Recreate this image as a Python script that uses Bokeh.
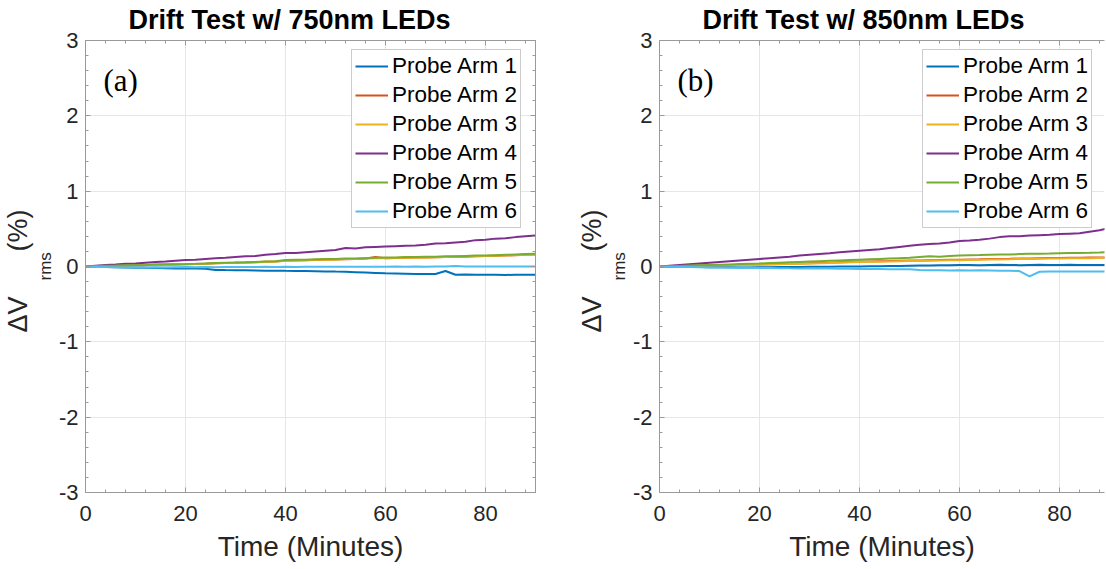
from bokeh.plotting import figure
from bokeh.models import (Label, LinearAxis, SingleIntervalTicker, Range1d, Title,
                          CustomLabelingPolicy)
from bokeh.layouts import row
from bokeh.embed import file_html
from bokeh.resources import INLINE

# ---------------- data ----------------
time_min = [0, 2, 4, 6, 8, 10, 12, 14, 16, 18, 20, 22, 24, 26, 28, 30, 32, 34, 36, 38,
            40, 42, 44, 46, 48, 50, 52, 54, 56, 58, 60, 62, 64, 66, 68, 70, 72, 74, 76, 78,
            80, 82, 84, 86, 88, 90]

series_names = ["Probe Arm 1", "Probe Arm 2", "Probe Arm 3",
                "Probe Arm 4", "Probe Arm 5", "Probe Arm 6"]
series_colors = ["#0072BD", "#D95319", "#EDB120", "#7E2F8E", "#77AC30", "#4DBEEE"]

# Panel (a): 750 nm LEDs
a_arm1 = [0, -0.005, -0.008, -0.01, -0.012, -0.015, -0.018, -0.02, -0.022, -0.025,
          -0.025, -0.028, -0.03, -0.045, -0.048, -0.05, -0.05, -0.052, -0.055, -0.055,
          -0.058, -0.06, -0.06, -0.062, -0.065, -0.068, -0.07, -0.075, -0.08, -0.085,
          -0.09, -0.092, -0.095, -0.098, -0.1, -0.1, -0.06, -0.11, -0.105, -0.11,
          -0.108, -0.11, -0.112, -0.11, -0.108, -0.11]
a_arm2 = [0, 0.004, 0.008, 0.01, 0.013, 0.016, 0.018, 0.022, 0.025, 0.028,
          0.03, 0.033, 0.037, 0.042, 0.046, 0.05, 0.053, 0.057, 0.062, 0.067,
          0.075, 0.08, 0.082, 0.087, 0.09, 0.092, 0.097, 0.1, 0.105, 0.125,
          0.11, 0.112, 0.115, 0.118, 0.12, 0.122, 0.125, 0.128, 0.13, 0.135,
          0.138, 0.142, 0.146, 0.15, 0.155, 0.16]
a_arm3 = [0, 0.004, 0.008, 0.011, 0.014, 0.017, 0.02, 0.023, 0.026, 0.029,
          0.031, 0.034, 0.038, 0.043, 0.047, 0.05, 0.054, 0.058, 0.063, 0.068,
          0.076, 0.08, 0.083, 0.088, 0.09, 0.094, 0.098, 0.101, 0.105, 0.108,
          0.11, 0.113, 0.116, 0.119, 0.121, 0.124, 0.127, 0.13, 0.133, 0.137,
          0.14, 0.144, 0.148, 0.152, 0.157, 0.162]
a_arm4 = [0, 0.01, 0.02, 0.025, 0.035, 0.04, 0.05, 0.06, 0.065, 0.075,
          0.085, 0.09, 0.1, 0.11, 0.115, 0.125, 0.135, 0.14, 0.155, 0.165,
          0.18, 0.18, 0.19, 0.2, 0.21, 0.22, 0.245, 0.24, 0.255, 0.26,
          0.265, 0.27, 0.275, 0.28, 0.29, 0.305, 0.31, 0.32, 0.33, 0.35,
          0.355, 0.37, 0.375, 0.39, 0.4, 0.41]
a_arm5 = [0, 0.005, 0.01, 0.012, 0.015, 0.018, 0.02, 0.025, 0.028, 0.03,
          0.032, 0.035, 0.04, 0.045, 0.05, 0.052, 0.055, 0.06, 0.065, 0.07,
          0.085, 0.09, 0.09, 0.095, 0.1, 0.1, 0.105, 0.105, 0.11, 0.115,
          0.12, 0.12, 0.125, 0.125, 0.13, 0.13, 0.135, 0.135, 0.14, 0.145,
          0.145, 0.15, 0.155, 0.16, 0.165, 0.17]
a_arm6 = [0, -0.005, -0.008, -0.01, -0.012, -0.01, -0.012, -0.01, -0.012, -0.01,
          -0.008, -0.01, -0.008, -0.01, -0.006, -0.008, -0.005, -0.006, -0.004, -0.006,
          -0.004, -0.005, -0.003, -0.004, -0.002, -0.004, -0.003, -0.002, -0.004, -0.002,
          -0.003, -0.001, -0.002, -0.001, -0.002, 0.0, -0.001, 0.005, -0.001, 0.0,
          -0.001, 0.0, 0.001, 0.0, 0.001, 0.0]

# Panel (b): 850 nm LEDs
b_arm1 = [0, -0.002, -0.004, -0.006, -0.008, -0.009, -0.01, -0.011, -0.012, -0.012,
          -0.01, -0.009, -0.008, -0.007, -0.005, -0.004, -0.003, -0.002, -0.001, 0.0,
          0.0, 0.002, 0.004, 0.006, 0.008, 0.01, 0.012, 0.014, 0.016, 0.018,
          0.02, 0.02, 0.018, 0.02, 0.022, 0.02, 0.018, 0.02, 0.022, 0.02,
          0.02, 0.022, 0.02, 0.021, 0.02, 0.02]
b_arm2 = [0, 0.003, 0.006, 0.009, 0.012, 0.015, 0.018, 0.02, 0.022, 0.025,
          0.028, 0.03, 0.033, 0.036, 0.04, 0.043, 0.047, 0.05, 0.055, 0.06,
          0.065, 0.068, 0.07, 0.072, 0.075, 0.078, 0.08, 0.083, 0.085, 0.088,
          0.09, 0.093, 0.095, 0.098, 0.1, 0.102, 0.105, 0.107, 0.11, 0.112,
          0.113, 0.115, 0.116, 0.118, 0.119, 0.12]
b_arm3 = [0, 0.002, 0.005, 0.008, 0.011, 0.013, 0.015, 0.017, 0.019, 0.022,
          0.024, 0.027, 0.03, 0.033, 0.036, 0.039, 0.042, 0.045, 0.05, 0.055,
          0.06, 0.062, 0.064, 0.066, 0.069, 0.072, 0.074, 0.077, 0.079, 0.082,
          0.084, 0.087, 0.089, 0.092, 0.094, 0.096, 0.099, 0.101, 0.103, 0.105,
          0.106, 0.108, 0.109, 0.111, 0.112, 0.113]
b_arm4 = [0, 0.01, 0.02, 0.03, 0.04, 0.05, 0.06, 0.07, 0.08, 0.09,
          0.1, 0.11, 0.12, 0.13, 0.145, 0.155, 0.165, 0.175, 0.19, 0.2,
          0.21, 0.22, 0.23, 0.245, 0.26, 0.275, 0.29, 0.3, 0.305, 0.32,
          0.34, 0.345, 0.355, 0.37, 0.39, 0.4, 0.4, 0.41, 0.415, 0.42,
          0.43, 0.435, 0.44, 0.46, 0.48, 0.51]
b_arm5 = [0, 0.004, 0.008, 0.012, 0.016, 0.02, 0.024, 0.028, 0.032, 0.036,
          0.04, 0.045, 0.05, 0.055, 0.06, 0.065, 0.07, 0.075, 0.08, 0.085,
          0.09, 0.095, 0.1, 0.105, 0.11, 0.115, 0.125, 0.135, 0.13, 0.14,
          0.145, 0.15, 0.152, 0.155, 0.158, 0.16, 0.165, 0.168, 0.17, 0.172,
          0.175, 0.178, 0.18, 0.182, 0.185, 0.19]
b_arm6 = [0, -0.003, -0.006, -0.008, -0.01, -0.012, -0.013, -0.015, -0.016, -0.018,
          -0.02, -0.021, -0.022, -0.024, -0.025, -0.026, -0.027, -0.028, -0.03, -0.03,
          -0.032, -0.033, -0.034, -0.035, -0.036, -0.037, -0.048, -0.05, -0.05, -0.052,
          -0.05, -0.052, -0.05, -0.052, -0.055, -0.055, -0.06, -0.13, -0.07, -0.065,
          -0.065, -0.066, -0.065, -0.066, -0.065, -0.066]

panel_a_series = [a_arm1, a_arm2, a_arm3, a_arm4, a_arm5, a_arm6]
panel_b_series = [b_arm1, b_arm2, b_arm3, b_arm4, b_arm5, b_arm6]

y_ticks_labels = {-3: "-3", -2: "-2", -1: "-1", 0: "0", 1: "1", 2: "2", 3: "3"}

FONT = "Liberation Sans"
AXIS_GRAY = "#9a9a9a"
TEXT_DARK = "#262626"

HIDE_LABELS = """
for (const i of indices) { indices.unset(i) }
return indices
"""


def style_axis(ax, show_labels):
    ax.axis_line_color = AXIS_GRAY
    ax.major_tick_line_color = AXIS_GRAY
    ax.minor_tick_line_color = AXIS_GRAY
    ax.major_tick_in = 5
    ax.major_tick_out = 0
    ax.minor_tick_in = 3
    ax.minor_tick_out = 0
    ax.major_label_text_font = FONT
    ax.major_label_text_color = TEXT_DARK
    if show_labels:
        ax.major_label_text_font_size = "22px"
    else:
        ax.major_label_text_font_size = "1px"
        ax.major_label_standoff = 0
        ax.major_label_policy = CustomLabelingPolicy(code=HIDE_LABELS)


def make_panel(title, tag, series, x_end, frame_w, border_left, border_right,
               right_axis, legend_x):
    p = figure(output_backend="svg", toolbar_location=None,
               frame_width=frame_w, frame_height=452,
               min_border_left=border_left, min_border_right=border_right,
               min_border_top=40, min_border_bottom=77,
               x_range=Range1d(0, x_end), y_range=Range1d(-3, 3),
               background_fill_color="white", border_fill_color="white",
               outline_line_color=AXIS_GRAY if right_axis else None)
    p.title.text = title
    p.title.text_font = FONT
    p.title.text_font_size = "27px"
    p.title.text_font_style = "bold"
    p.title.text_color = "black"
    p.title.align = "left"
    p.title.offset = 43
    p.title.standoff = 4

    xt = SingleIntervalTicker(interval=20, num_minor_ticks=5)
    yt = SingleIntervalTicker(interval=1, num_minor_ticks=5)
    p.xaxis.ticker = xt
    p.yaxis.ticker = yt
    p.xgrid.ticker = xt
    p.ygrid.ticker = yt
    for ax in p.xaxis + p.yaxis:
        style_axis(ax, True)
    p.xaxis.major_label_standoff = 13
    p.yaxis.major_label_standoff = 7
    p.yaxis.major_label_overrides = y_ticks_labels
    p.xaxis.axis_label = "Time (Minutes)"
    p.xaxis.axis_label_text_font = FONT
    p.xaxis.axis_label_text_font_size = "28px"
    p.xaxis.axis_label_text_font_style = "normal"
    p.xaxis.axis_label_text_color = TEXT_DARK
    p.xaxis.axis_label_standoff = 7

    top = LinearAxis(ticker=xt)
    style_axis(top, False)
    p.add_layout(top, "above")
    if right_axis:
        rgt = LinearAxis(ticker=yt)
        style_axis(rgt, False)
        p.add_layout(rgt, "right")

    # y axis label: Delta V_rms (%) -> subscript column next to the axis, main text outside
    p.add_layout(Title(text="rms", align="left", offset=212, standoff=2,
                       text_font=FONT, text_font_size="17px",
                       text_font_style="normal", text_color=TEXT_DARK), "left")
    p.add_layout(Title(text="\u0394V\u00a0\u00a0\u00a0\u00a0\u00a0\u00a0(%)", align="left",
                       offset=160, standoff=0,
                       text_font=FONT, text_font_size="27px",
                       text_font_style="normal", text_color=TEXT_DARK), "left")

    p.xgrid.grid_line_color = "#e6e6e6"
    p.ygrid.grid_line_color = "#e6e6e6"

    for name, color, ys in zip(series_names, series_colors, series):
        p.line(time_min, ys, line_color=color, line_width=2, legend_label=name)

    lg = p.legend[0]
    lg.location = (legend_x, 264)
    lg.label_text_font = FONT
    lg.label_text_font_size = "22.5px"
    lg.label_text_color = "black"
    lg.border_line_color = AXIS_GRAY
    lg.border_line_width = 1
    lg.background_fill_color = "white"
    lg.background_fill_alpha = 1.0
    lg.padding = 3
    lg.margin = 0
    lg.spacing = 3
    lg.glyph_width = 33
    lg.glyph_height = 26
    lg.label_height = 26
    lg.label_standoff = 4

    # panel tag
    p.add_layout(Label(x=18, y=412, x_units="screen", y_units="screen", text=tag,
                       text_font="Liberation Serif", text_font_size="31px",
                       text_color="black", text_baseline="alphabetic"))
    return p


pa = make_panel("Drift Test w/ 750nm LEDs", "(a)", panel_a_series,
                90, 450, 85, 38, True, 266)
pb = make_panel("Drift Test w/ 850nm LEDs", "(b)", panel_b_series,
                89, 445, 86, 1, False, 263)

layout = row(pa, pb)
open("out.html", "w").write(file_html(layout, INLINE))
